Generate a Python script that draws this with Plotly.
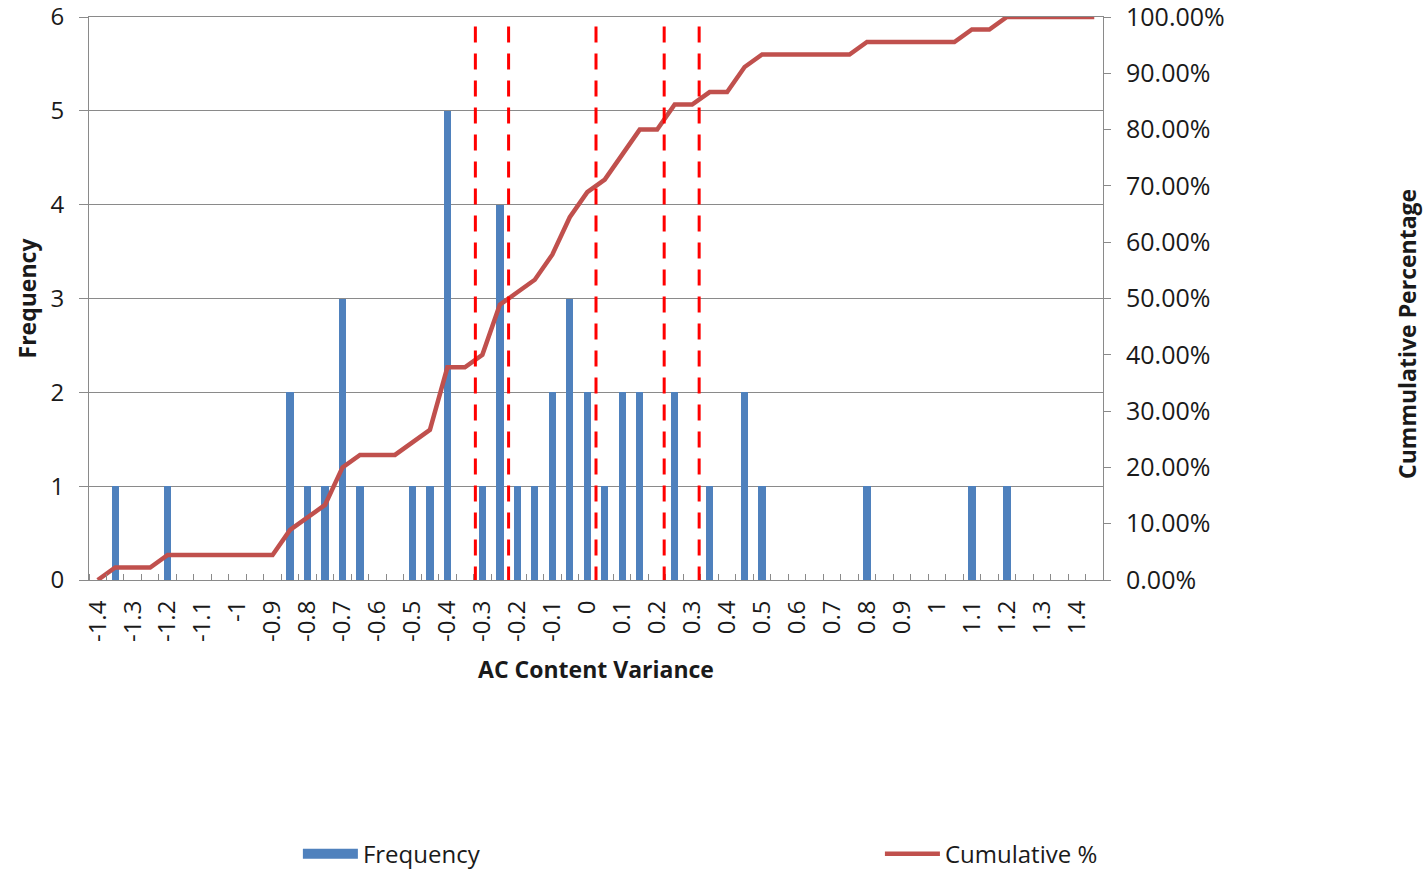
import numpy as np
import plotly.graph_objects as go

# Histogram bins (category centres, step 0.05)
bins = [round(-1.4 + 0.05 * i, 2) for i in range(58)]

# Counts per bin
frequency = [0, 1, 0, 0, 1, 0, 0, 0, 0, 0, 0,
             2, 1, 1, 3, 1, 0, 0, 1, 1, 5,
             0, 1, 4, 1, 1, 2, 3, 2, 1, 2,
             2, 0, 2, 0, 1, 0, 2, 1, 0, 0,
             0, 0, 0, 1, 0, 0, 0, 0, 0, 1,
             0, 1, 0, 0, 0, 0, 0]

# Running share of all observations
cumulative = np.cumsum(frequency) / np.sum(frequency)

# Reference limits marked with dashed red lines
ref_lines = [-0.32, -0.225, 0.025, 0.22, 0.32]

# Labelled positions on the x axis
tick_vals = [round(-1.4 + 0.1 * i, 1) for i in range(29)]
tick_text = [("%g" % v) for v in tick_vals]

FONT = "Open Sans"
GRID = "#8a8a8a"
BLUE = "#4F81BD"
RED_LINE = "#C0504D"

fig = go.Figure()

fig.add_trace(go.Bar(
    x=bins, y=frequency, name="Frequency",
    marker=dict(color=BLUE, line=dict(width=0)),
    width=0.021, showlegend=False,
))

# legend entry for the bars, drawn as a wide swatch
fig.add_trace(go.Scatter(
    x=[None], y=[None], name="Frequency", mode="lines",
    line=dict(color=BLUE, width=12), legend="legend",
))

fig.add_trace(go.Scatter(
    x=bins, y=cumulative, name="Cumulative %", yaxis="y2",
    mode="lines", line=dict(color=RED_LINE, width=4.5),
    legend="legend2",
))

for v in ref_lines:
    fig.add_shape(type="line", xref="x", yref="y",
                  x0=v, x1=v, y0=5.9, y1=0,
                  line=dict(color="#FF0000", width=3, dash="16px,11px"))

# secondary axis title, set a little below the axis centre
fig.add_annotation(
    text="<b>Cummulative Percentage</b>", textangle=-90,
    xref="paper", yref="paper", x=1.2998, y=0.437,
    xanchor="center", yanchor="middle", showarrow=False,
    font=dict(size=23, family=FONT, color="#1a1a1a"),
)

fig.update_layout(
    width=1425, height=871,
    margin=dict(l=89, r=322, t=17, b=291, autoexpand=False),
    plot_bgcolor="white", paper_bgcolor="white",
    font=dict(family=FONT, color="#1a1a1a", size=24),
    bargap=0,
    xaxis=dict(
        range=[-1.425, 1.475],
        tickmode="array", tickvals=tick_vals, ticktext=tick_text,
        tickangle=-90, ticks="", showgrid=False, zeroline=False,
        showline=True, linecolor=GRID, linewidth=1, mirror=True,
        tickfont=dict(size=24), ticklabelstandoff=10,
        ticklabeloverflow="allow", automargin=False,
        minor=dict(tick0=-1.425, dtick=0.05, ticks="inside",
                   ticklen=6, tickcolor=GRID, showgrid=False),
        title=dict(text="<b>AC Content Variance</b>", font=dict(size=23),
                   standoff=20),
    ),
    yaxis=dict(
        range=[0, 6], dtick=1, showgrid=True, gridcolor=GRID,
        gridwidth=1, zeroline=False, showline=True, linecolor=GRID,
        ticks="outside", ticklen=9, tickcolor=GRID,
        tickfont=dict(size=24), ticklabelstandoff=10,
        ticklabeloverflow="allow", automargin=False,
        title=dict(text="<b>Frequency</b>", font=dict(size=23),
                   standoff=7),
    ),
    yaxis2=dict(
        range=[0, 1], dtick=0.1, tickformat=".2%", overlaying="y",
        side="right", showgrid=False, zeroline=False, showline=True,
        linecolor=GRID, ticks="outside", ticklen=7, tickcolor=GRID,
        tickfont=dict(size=25), ticklabelstandoff=10,
        ticklabeloverflow="allow", automargin=False,
    ),
    legend=dict(orientation="h", x=0.206, xanchor="left",
                y=-0.487, yanchor="middle", itemwidth=55,
                font=dict(size=24), bgcolor="rgba(0,0,0,0)"),
    legend2=dict(orientation="h", x=0.78, xanchor="left",
                 y=-0.487, yanchor="middle", itemwidth=55,
                 font=dict(size=24), bgcolor="rgba(0,0,0,0)"),
    showlegend=True,
)

fig.write_html("out.html")
